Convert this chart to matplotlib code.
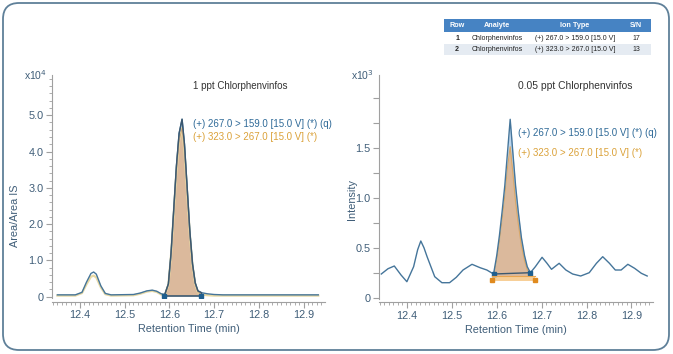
import matplotlib
matplotlib.use("Agg")
import matplotlib.pyplot as plt
import matplotlib.patches as mpatches
from matplotlib.ticker import MultipleLocator, FixedLocator, FixedFormatter

# -----------------------------
# Data
# -----------------------------
# left panel: 1 ppt, units x10^4
left_x = [12.350, 12.390, 12.405, 12.415, 12.425, 12.431, 12.437, 12.447, 12.457, 12.470,
          12.520, 12.535, 12.550, 12.562, 12.572, 12.582, 12.590, 12.598, 12.604, 12.610,
          12.616, 12.622, 12.6286, 12.634, 12.640, 12.646, 12.652, 12.658, 12.664, 12.672,
          12.685, 12.700, 12.720, 12.933]
left_quant = [0.05, 0.05, 0.12, 0.40, 0.64, 0.68, 0.62, 0.30, 0.09, 0.05,
              0.06, 0.10, 0.16, 0.18, 0.15, 0.08, 0.06, 0.35, 1.20, 2.40,
              3.60, 4.50, 4.89, 4.20, 3.00, 1.80, 0.90, 0.38, 0.16, 0.11,
              0.08, 0.06, 0.05, 0.05]
left_qual = [0.03, 0.03, 0.10, 0.34, 0.55, 0.58, 0.53, 0.26, 0.07, 0.03,
             0.04, 0.08, 0.14, 0.16, 0.13, 0.06, 0.04, 0.33, 1.15, 2.30,
             3.45, 4.30, 4.64, 4.00, 2.85, 1.70, 0.85, 0.35, 0.12, 0.06,
             0.04, 0.03, 0.03, 0.03]
left_bounds = [12.588, 12.672]
left_base = [0.03, 0.03]

# right panel: 0.05 ppt, units x10^3
right_x = [12.343, 12.358, 12.372, 12.387, 12.400, 12.415, 12.424, 12.431, 12.438, 12.445,
           12.462, 12.478, 12.495, 12.510, 12.525, 12.545, 12.563, 12.578, 12.593, 12.600,
           12.606, 12.612, 12.618, 12.624, 12.630, 12.636, 12.642, 12.648, 12.655, 12.662,
           12.668, 12.675, 12.686, 12.701, 12.712, 12.722, 12.739, 12.754, 12.769, 12.787,
           12.806, 12.822, 12.836, 12.851, 12.864, 12.877, 12.892, 12.907, 12.922, 12.935]
right_quant = [0.237, 0.290, 0.317, 0.227, 0.160, 0.310, 0.480, 0.567, 0.500, 0.410,
               0.210, 0.150, 0.150, 0.204, 0.277, 0.334, 0.300, 0.277, 0.237, 0.420,
               0.620, 0.860, 1.120, 1.450, 1.784, 1.450, 1.120, 0.860, 0.600, 0.420,
               0.310, 0.250, 0.310, 0.404, 0.344, 0.284, 0.344, 0.277, 0.237, 0.217,
               0.250, 0.344, 0.410, 0.344, 0.277, 0.277, 0.334, 0.294, 0.244, 0.217]
right_qual_x = [12.593, 12.600, 12.606, 12.612, 12.618, 12.624, 12.630, 12.636, 12.642,
                12.648, 12.655, 12.662, 12.668, 12.675, 12.680]
right_qual = [0.22, 0.38, 0.56, 0.78, 1.02, 1.30, 1.51, 1.25, 0.96,
              0.74, 0.52, 0.37, 0.28, 0.24, 0.22]
right_bounds = [12.593, 12.675]
right_base = [0.237, 0.250]
right_qual_bounds = [12.590, 12.685]
right_qual_base = 0.195

x_ticks = [12.4, 12.5, 12.6, 12.7, 12.8, 12.9]
left_yticks = [0, 1, 2, 3, 4, 5]
left_ylabels = ["0", "1.0", "2.0", "3.0", "4.0", "5.0"]
right_yticks = [0, 0.25, 0.5, 0.75, 1.0, 1.25, 1.5, 1.75, 2.0]
right_ylabels = ["0", "", "0.5", "", "1.0", "", "1.5", "", ""]

quant_label = "(+) 267.0 > 159.0 [15.0 V] (*) (q)"
qual_label = "(+) 323.0 > 267.0 [15.0 V] (*)"

table_header = ["Row", "Analyte", "Ion Type", "S/N"]
table_rows = [["1", "Chlorphenvinfos", "(+) 267.0 > 159.0 [15.0 V]", "17"],
              ["2", "Chlorphenvinfos", "(+) 323.0 > 267.0 [15.0 V]", "13"]]

# -----------------------------
# Styles
# -----------------------------
plt.rcParams["font.family"] = ["Liberation Sans", "DejaVu Sans"]
BLUE_LINE = "#45759a"
DARK_LINE = "#3b5870"
BLUE_FILL = "#bcd6ee"
TAN_FILL = "#dbb99c"
ORANGE_LINE = "#e8d9a4"
ORANGE_TXT = "#dba23a"
BLUE_TXT = "#2f6a98"
TICK_TXT = "#3f5d78"
SPINE = "#a0a0a0"

fig = plt.figure(figsize=(6.73, 3.54), dpi=100)

# outer rounded frame
frame = mpatches.FancyBboxPatch((0.03, 0.04), 6.66, 3.47,
                                boxstyle="round,pad=0,rounding_size=0.16",
                                transform=fig.dpi_scale_trans, fill=False,
                                edgecolor="#5f8099", linewidth=1.3)
fig.patches.append(frame)


def style_axes(ax, mult):
    for s in ["top", "right"]:
        ax.spines[s].set_visible(False)
    ax.spines["left"].set_color(SPINE)
    ax.spines["bottom"].set_color(SPINE)
    ax.spines["bottom"].set_position(("outward", 2.5))
    ax.set_xlim(12.338, 12.948)
    ax.xaxis.set_major_locator(FixedLocator(x_ticks))
    ax.xaxis.set_minor_locator(MultipleLocator(0.01))
    ax.tick_params(axis="x", which="major", length=4, color=SPINE, labelsize=7.8,
                   labelcolor=TICK_TXT, pad=2)
    ax.tick_params(axis="x", which="minor", length=2.5, color=SPINE)
    ax.tick_params(axis="y", which="major", length=4, color=SPINE, labelsize=7.8,
                   labelcolor=TICK_TXT, pad=2)
    ax.tick_params(axis="y", which="minor", length=2.5, color=SPINE)
    ax.set_xlabel("Retention Time (min)", fontsize=7.8, color=TICK_TXT, labelpad=3)
    ax.text(-0.02, 1.0, mult, transform=ax.transAxes, ha="right", va="center",
            fontsize=7.5, color=TICK_TXT)
    return ax


# -----------------------------
# Left panel
# -----------------------------
axL = fig.add_axes([0.0773, 0.1568, 0.4056, 0.6305])
style_axes(axL, r"x10$^4$")
axL.set_ylim(-0.05, 6.1)
axL.yaxis.set_major_locator(FixedLocator(left_yticks))
axL.yaxis.set_major_formatter(FixedFormatter(left_ylabels))
axL.yaxis.set_minor_locator(MultipleLocator(0.2))

# peak fills between integration bounds
inL = [i for i, x in enumerate(left_x) if left_bounds[0] <= x <= left_bounds[1]]
px = [left_bounds[0]] + [left_x[i] for i in inL] + [left_bounds[1]]
pq = [left_base[0]] + [left_quant[i] for i in inL] + [left_base[1]]
pr = [left_base[0]] + [left_qual[i] for i in inL] + [left_base[1]]
axL.fill_between(px, left_base[0], pq, color=BLUE_FILL, lw=0)
axL.fill_between(px, left_base[0], pr, color=TAN_FILL, lw=0)
axL.plot(left_x, left_qual, color=ORANGE_LINE, lw=1.6)
axL.plot(left_x, left_quant, color=BLUE_LINE, lw=1.0)
axL.plot(px, pr, color="#c9a07a", lw=0.6)
axL.plot(px, pq, color=DARK_LINE, lw=1.0)
axL.plot(left_bounds, left_base, color=DARK_LINE, lw=1.2)
axL.plot(left_bounds, left_base, ls="none", marker="s", ms=3.5, color="#1f5f8f")

axL.text(12.652, 5.80, "1 ppt Chlorphenvinfos", fontsize=7.0, color="#333333",
         va="center")
axL.text(12.652, 4.76, quant_label, fontsize=7.0, color=BLUE_TXT, va="center")
axL.text(12.652, 4.40, qual_label, fontsize=7.0, color=ORANGE_TXT, va="center")

# -----------------------------
# Right panel
# -----------------------------
axR = fig.add_axes([0.5632, 0.1562, 0.4071, 0.6328])
style_axes(axR, r"x10$^3$")
axR.set_ylim(-0.01, 2.23)
axR.yaxis.set_major_locator(FixedLocator(right_yticks))
axR.yaxis.set_major_formatter(FixedFormatter(right_ylabels))

inR = [i for i, x in enumerate(right_x) if right_bounds[0] <= x <= right_bounds[1]]
rx = [right_x[i] for i in inR]
rq = [right_quant[i] for i in inR]
rbase = [right_base[0] + (x - right_bounds[0]) / (right_bounds[1] - right_bounds[0])
         * (right_base[1] - right_base[0]) for x in rx]
axR.fill_between(rx, rbase, rq, color=BLUE_FILL, lw=0)
axR.fill_between(right_qual_x, right_qual_base, right_qual, color=TAN_FILL, lw=0)
axR.plot(right_qual_x, right_qual, color="#d9a868", lw=0.8)
axR.plot(right_x, right_quant, color=BLUE_LINE, lw=1.0)
axR.plot(right_bounds, right_base, color=DARK_LINE, lw=1.0)
axR.plot(right_bounds, right_base, ls="none", marker="s", ms=2.8, color="#1f5f8f")
# qualifier integration bar
axR.fill_between(right_qual_bounds, 0.17, 0.218, color="#f7cf98", lw=0)
axR.plot(right_qual_bounds, [0.215, 0.215], color="#e9a650", lw=0.8)
axR.plot(right_qual_bounds, [0.175, 0.175], ls="none", marker="s", ms=3.5,
         color="#e08a1e")

axR.text(12.647, 2.117, "0.05 ppt Chlorphenvinfos", fontsize=7.4, color="#333333",
         va="center")
axR.text(12.647, 1.647, quant_label, fontsize=7.0, color=BLUE_TXT, va="center")
axR.text(12.647, 1.447, qual_label, fontsize=7.0, color=ORANGE_TXT, va="center")

# axis titles
fig.text(15 / 673, 1 - 216 / 354, "Area/Area IS", rotation=90, ha="center", va="center",
         fontsize=7.8, color=TICK_TXT)
fig.text(352 / 673, 1 - 200 / 354, "Intensity", rotation=90, ha="center", va="center",
         fontsize=7.8, color=TICK_TXT)

# -----------------------------
# Summary table (top right)
# -----------------------------
W, H = 673.0, 354.0
tab_left, tab_right = 444, 651
row_tops = [19, 32, 44.5, 55]
col_centers = [457, 497, 575, 636]
fig.patches.append(mpatches.Rectangle((tab_left / W, 1 - row_tops[1] / H),
                                      (tab_right - tab_left) / W,
                                      (row_tops[1] - row_tops[0]) / H,
                                      transform=fig.transFigure, color="#4683c3", lw=0))
fig.patches.append(mpatches.Rectangle((tab_left / W, 1 - row_tops[3] / H),
                                      (tab_right - tab_left) / W,
                                      (row_tops[3] - row_tops[2]) / H,
                                      transform=fig.transFigure, color="#e5ebf2", lw=0))
for c, label in zip(col_centers, table_header):
    fig.text(c / W, 1 - (row_tops[0] + row_tops[1]) / 2 / H, label, ha="center",
             va="center", fontsize=5.2, color="white", fontweight="bold")
for r, row in enumerate(table_rows):
    yc = 1 - (row_tops[r + 1] + row_tops[r + 2]) / 2 / H
    for j, (c, val) in enumerate(zip(col_centers, row)):
        fig.text(c / W, yc, val, ha="center", va="center", fontsize=5.0,
                 color="#222222", fontweight="bold" if j == 0 else "normal")

fig.savefig("out.png", dpi=100)
